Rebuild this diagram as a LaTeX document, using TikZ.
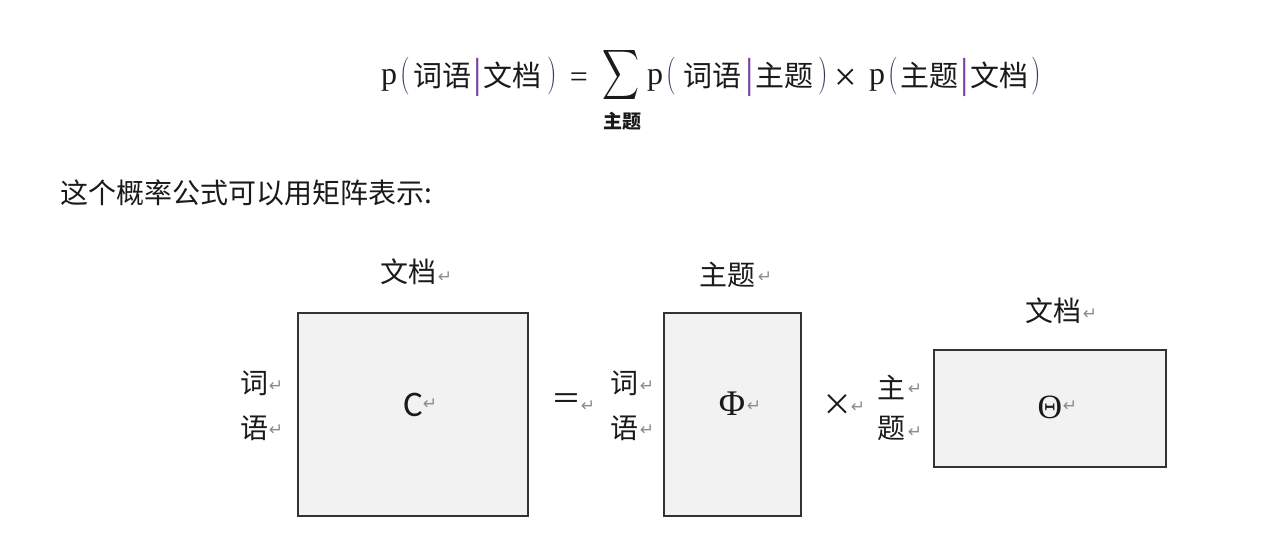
\documentclass[tikz,border=0pt]{standalone}
\usepackage{fontspec}
\usepackage{graphicx}
\newfontfamily\cjk{Noto Sans CJK SC}
\newfontfamily\lserif{Liberation Serif}
\newfontfamily\retf{DejaVu Sans}
\newfontfamily\calib{Carlito}
\definecolor{boxfill}{HTML}{F2F2F2}
\definecolor{boxline}{HTML}{333333}
\definecolor{retgray}{HTML}{8C8C8C}
\definecolor{barcol}{HTML}{7A3FA0}
\definecolor{parcol}{HTML}{3A3466}
\definecolor{inkcol}{HTML}{1A1A1A}
\tikzset{
  t/.style={inner sep=0pt, outer sep=0pt, text=inkcol},
  lbl/.style={t, font=\cjk\fontsize{28}{30}\selectfont},
  fcjk/.style={t, font=\cjk\fontsize{29}{31}\selectfont, anchor=base west},
  fp/.style={t, font=\lserif\fontsize{32}{34}\selectfont, anchor=base west},
  fpar/.style={t, font=\rmfamily\fontsize{27}{29}\selectfont, text=parcol},
  fbar/.style={t, font=\lserif\fontsize{42}{44}\selectfont, anchor=base, text=barcol},
  ret/.style={t, font=\retf\fontsize{17}{18}\selectfont, text=retgray},
  mat/.style={draw=boxline, fill=boxfill, line width=2pt, inner sep=0pt},
  sym/.style={t, font=\lserif\fontsize{36}{38}\selectfont},
}
\begin{document}
\begin{tikzpicture}[x=1pt,y=-1pt]
\useasboundingbox (0,0) rectangle (1276,546);
\fill[white] (0,0) rectangle (1276,546);

% ---------- formula ----------
\node[fp]   (p1)  at (381,84) {p};
\node[fpar] (lp1) at (405,76.5) {\scalebox{1}[1.4]{(}};
\node[fcjk] (w1)  at (413,86) {词语};
\node[fbar] (b1)  at (478,87) {|};
\node[fcjk] (d1)  at (483,86) {文档};
\node[fpar] (rp1) at (552,76.5) {\scalebox{1}[1.4]{)}};
\node[t, font=\lserif\fontsize{32}{34}\selectfont] (eq) at (579,80) {=};
\node[t] (sig) at (621,75) {\resizebox*{37pt}{56pt}{$\displaystyle\sum$}};
\node[t, font=\cjk\bfseries\fontsize{19}{20}\selectfont] (sub) at (622,121) {主题};
\node[fp]   (p2)  at (647,84) {p};
\node[fpar] (lp2) at (671,76.5) {\scalebox{1}[1.4]{(}};
\node[fcjk] (w2)  at (683,86) {词语};
\node[fbar] (b2)  at (750,87) {|};
\node[fcjk] (z2)  at (755,86) {主题};
\node[fpar] (rp2) at (823,76.5) {\scalebox{1}[1.4]{)}};
\node[t, font=\lserif\fontsize{40}{42}\selectfont] (times1) at (846,80) {×};
\node[fp]   (p3)  at (869,84) {p};
\node[fpar] (lp3) at (893,76.5) {\scalebox{1}[1.4]{(}};
\node[fcjk] (z3)  at (900,86) {主题};
\node[fbar] (b3)  at (965,87) {|};
\node[fcjk] (d3)  at (970,86) {文档};
\node[fpar] (rp3) at (1036,76.5) {\scalebox{1}[1.4]{)}};

% ---------- sentence ----------
\node[lbl, anchor=base west] (sent) at (60,203) {这个概率公式可以用矩阵表示:};

% ---------- matrices ----------
\node[mat, minimum width=230pt, minimum height=203pt] (C) at (413,414.5) {};
\node[mat, minimum width=137pt, minimum height=203pt] (Phi) at (732.5,414.5) {};
\node[mat, minimum width=232pt, minimum height=117pt] (Theta) at (1050,408.5) {};

\node[t, font=\calib\fontsize{36}{38}\selectfont] (Ct) at (413,405) {C};
\node[ret] (Cr) at (430,404) {↵};
\node[sym] (Phit) at (732,404) {Φ};
\node[ret] (Phir) at (754,406) {↵};
\node[sym, font=\lserif\fontsize{34}{36}\selectfont] (Thetat) at (1050,407) {Θ};
\node[ret] (Thetar) at (1070,406) {↵};

% labels around C
\node[lbl] (Ctop) at (408,272) {文档};
\node[ret] (Ctopr) at (445,277) {↵};
\node[lbl] (Cl1) at (254,383) {词};
\node[ret] (Cl1r) at (276,386) {↵};
\node[lbl] (Cl2) at (254,428) {语};
\node[ret] (Cl2r) at (276,430) {↵};

% equals
\node[lbl, font=\cjk\fontsize{30}{32}\selectfont] (eq2) at (566,402) {＝};
\node[ret] (eq2r) at (588,406) {↵};

% labels around Phi
\node[lbl] (Ptop) at (727,275) {主题};
\node[ret] (Ptopr) at (765,277) {↵};
\node[lbl] (Pl1) at (624,383) {词};
\node[ret] (Pl1r) at (647,386) {↵};
\node[lbl] (Pl2) at (624,428) {语};
\node[ret] (Pl2r) at (647,430) {↵};

% times
\node[lbl, font=\cjk\fontsize{30}{32}\selectfont] (tm) at (837,405) {×};
\node[ret] (tmr) at (858,407) {↵};

% labels around Theta
\node[lbl] (Ttop) at (1053,311) {文档};
\node[ret] (Ttopr) at (1090,314) {↵};
\node[lbl] (Tl1) at (891,387) {主};
\node[ret] (Tl1r) at (915,389) {↵};
\node[lbl] (Tl2) at (891,428) {题};
\node[ret] (Tl2r) at (915,432) {↵};
\end{tikzpicture}
\end{document}
